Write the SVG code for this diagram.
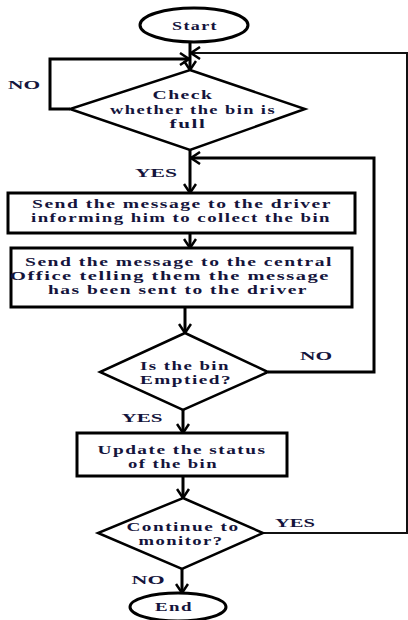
<svg xmlns="http://www.w3.org/2000/svg" width="408" height="620" viewBox="0 0 408 620">
<style>
.shape{fill:#fff;stroke:#000;stroke-width:3}
.dia{fill:#fff;stroke:#000;stroke-width:2.5}
.con{fill:none;stroke:#000;stroke-width:3}
.thin{fill:none;stroke:#111;stroke-width:2}
.t{font-family:"Liberation Serif","Times New Roman",serif;font-weight:bold;font-size:13px;fill:#14143c;text-anchor:middle;letter-spacing:1px}
.lbl{font-family:"Liberation Serif","Times New Roman",serif;font-weight:bold;font-size:13px;fill:#14143c;text-anchor:middle}
</style>
<defs>
<marker id="ah" markerWidth="12" markerHeight="14" refX="10" refY="7" orient="auto" markerUnits="userSpaceOnUse">
<path d="M1,1 L10,7 L1,13" fill="none" stroke="#000" stroke-width="2.5"/>
</marker>
</defs>
<rect width="408" height="620" fill="#fff"/>
<g id="connectors">
<line class="con" x1="190" y1="42" x2="190" y2="70" marker-end="url(#ah)"/>
<polyline class="con" points="70,109 50,109 50,59 189,59" marker-end="url(#ah)"/>
<polyline class="thin" points="263,533 407,533 407,53 191,53" marker-end="url(#ah)"/>
<line class="con" x1="190" y1="150" x2="190" y2="193" marker-end="url(#ah)"/>
<polyline class="con" points="268,372 374,372 374,158 191,158" marker-end="url(#ah)"/>
<line class="con" x1="190" y1="233" x2="190" y2="248" marker-end="url(#ah)"/>
<line class="con" x1="185" y1="307" x2="185" y2="333" marker-end="url(#ah)"/>
<line class="con" x1="183" y1="410" x2="183" y2="433" marker-end="url(#ah)"/>
<line class="con" x1="183" y1="476" x2="183" y2="498" marker-end="url(#ah)"/>
<line class="con" x1="182" y1="569" x2="182" y2="593" marker-end="url(#ah)"/>
<text class="lbl" x="24" y="89" textLength="32" lengthAdjust="spacingAndGlyphs">NO</text>
<text class="lbl" x="156" y="177" textLength="42" lengthAdjust="spacingAndGlyphs">YES</text>
<text class="lbl" x="316" y="360" textLength="32" lengthAdjust="spacingAndGlyphs">NO</text>
<text class="lbl" x="142" y="422" textLength="41" lengthAdjust="spacingAndGlyphs">YES</text>
<text class="lbl" x="295" y="527" textLength="40" lengthAdjust="spacingAndGlyphs">YES</text>
<text class="lbl" x="148" y="584" textLength="33" lengthAdjust="spacingAndGlyphs">NO</text>
</g>
<g id="start">
<ellipse class="shape" cx="194" cy="25" rx="54" ry="17"/>
<text class="t" x="195" y="30" textLength="46" lengthAdjust="spacingAndGlyphs">Start</text>
</g>
<g id="check">
<polygon class="dia" points="190,70 305,109 190,150 70,109"/>
<text class="t" x="183" y="99" textLength="61" lengthAdjust="spacingAndGlyphs">Check</text>
<text class="t" x="193" y="114" textLength="166" lengthAdjust="spacingAndGlyphs">whether the bin is</text>
<text class="t" x="188" y="128" textLength="37" lengthAdjust="spacingAndGlyphs">full</text>
</g>
<g id="send-driver">
<rect class="shape" x="8" y="193" width="347" height="40"/>
<text class="t" x="182" y="208" textLength="300" lengthAdjust="spacingAndGlyphs">Send the message to the driver</text>
<text class="t" x="181" y="222" textLength="300" lengthAdjust="spacingAndGlyphs">informing him to collect the bin</text>
</g>
<g id="send-office">
<rect class="shape" x="11" y="248" width="341" height="59"/>
<text class="t" x="179" y="266" textLength="308" lengthAdjust="spacingAndGlyphs">Send the message to the central</text>
<text class="t" x="170" y="280" textLength="320" lengthAdjust="spacingAndGlyphs">Office telling them the message</text>
<text class="t" x="178" y="294" textLength="260" lengthAdjust="spacingAndGlyphs">has been sent to the driver</text>
</g>
<g id="emptied">
<polygon class="dia" points="185,333 268,372 183,410 100,372"/>
<text class="t" x="185" y="370" textLength="90" lengthAdjust="spacingAndGlyphs">Is the bin</text>
<text class="t" x="186" y="384" textLength="92" lengthAdjust="spacingAndGlyphs">Emptied?</text>
</g>
<g id="update">
<rect class="shape" x="77" y="433" width="210" height="43"/>
<text class="t" x="182" y="454" textLength="169" lengthAdjust="spacingAndGlyphs">Update the status</text>
<text class="t" x="173" y="468" textLength="90" lengthAdjust="spacingAndGlyphs">of the bin</text>
</g>
<g id="continue">
<polygon class="dia" points="183,498 263,533 182,569 98,533"/>
<text class="t" x="183" y="531" textLength="113" lengthAdjust="spacingAndGlyphs">Continue to</text>
<text class="t" x="181" y="545" textLength="85" lengthAdjust="spacingAndGlyphs">monitor?</text>
</g>
<g id="end">
<ellipse class="shape" cx="178" cy="607" rx="48" ry="14"/>
<text class="t" x="174" y="611" textLength="38" lengthAdjust="spacingAndGlyphs">End</text>
</g>
</svg>
